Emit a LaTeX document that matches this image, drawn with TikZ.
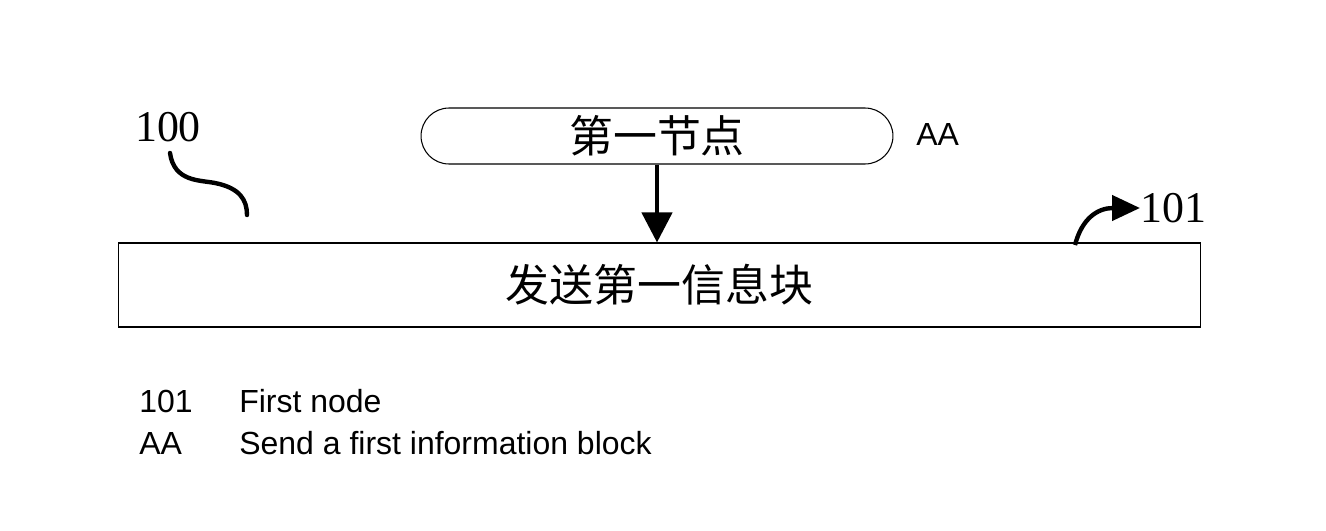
\documentclass[tikz,border=0pt]{standalone}
\usepackage{fontspec}
\setmainfont{Liberation Serif}
\newfontfamily\cjk{Noto Sans CJK SC}
\newfontfamily\arialfont{Liberation Sans}
\usetikzlibrary{arrows.meta}

\begin{document}
\begin{tikzpicture}[
    x=0.02cm, y=-0.02cm,
    stadium/.style={draw, line width=0.6pt, rounded corners=0.56cm, minimum width=9.44cm, minimum height=1.12cm, inner sep=0pt, font=\cjk\fontsize{25}{30}\selectfont},
    plainbox/.style={draw, line width=0.6pt, minimum width=21.66cm, minimum height=1.68cm, inner sep=0pt, font=\cjk\fontsize{25}{30}\selectfont},
    refnum/.style={inner sep=0pt, font=\fontsize{25}{30}\selectfont},
    legend/.style={inner sep=0pt, anchor=west, font=\arialfont\fontsize{18.2}{22}\selectfont},
    thickline/.style={line width=2.5pt}
]
    \useasboundingbox (0,0) rectangle (1326,531);

    % 节点
    \node[stadium] (node1) at (657,136) {第一节点};
    \node[legend] (aa) at (916,134) {AA};

    % 信息块
    \node[plainbox] (send) at (659.5,285) {发送第一信息块};

    % 箭头
    \draw[thickline, -{Triangle[width=0.6cm,length=0.6cm]}] (node1.south) -- (node1.south |- send.north);

    % 标号 100
    \node[refnum] (n100) at (168,127) {100};
    \coordinate (s1) at (170,153);
    \coordinate (s2) at (247,215);
    \draw[thickline, line cap=round] (s1) .. controls (174,182) and (200,180) .. (215,183)
        .. controls (240,188) and (247,200) .. (s2);

    % 标号 101
    \node[refnum, anchor=west] (n101) at (1140,208) {101};
    \coordinate (c1) at (1075,245);
    \draw[thickline, -{Triangle[width=0.5cm,length=0.56cm]}] (c1) .. controls (1082,218) and (1098,208) .. (n101.west);

    % 图例
    \node[legend] (l1) at (139,401) {101};
    \node[legend] (l1t) at (239,401) {First node};
    \node[legend] (l2) at (139,443) {AA};
    \node[legend] (l2t) at (239,443) {Send a first information block};
\end{tikzpicture}
\end{document}
